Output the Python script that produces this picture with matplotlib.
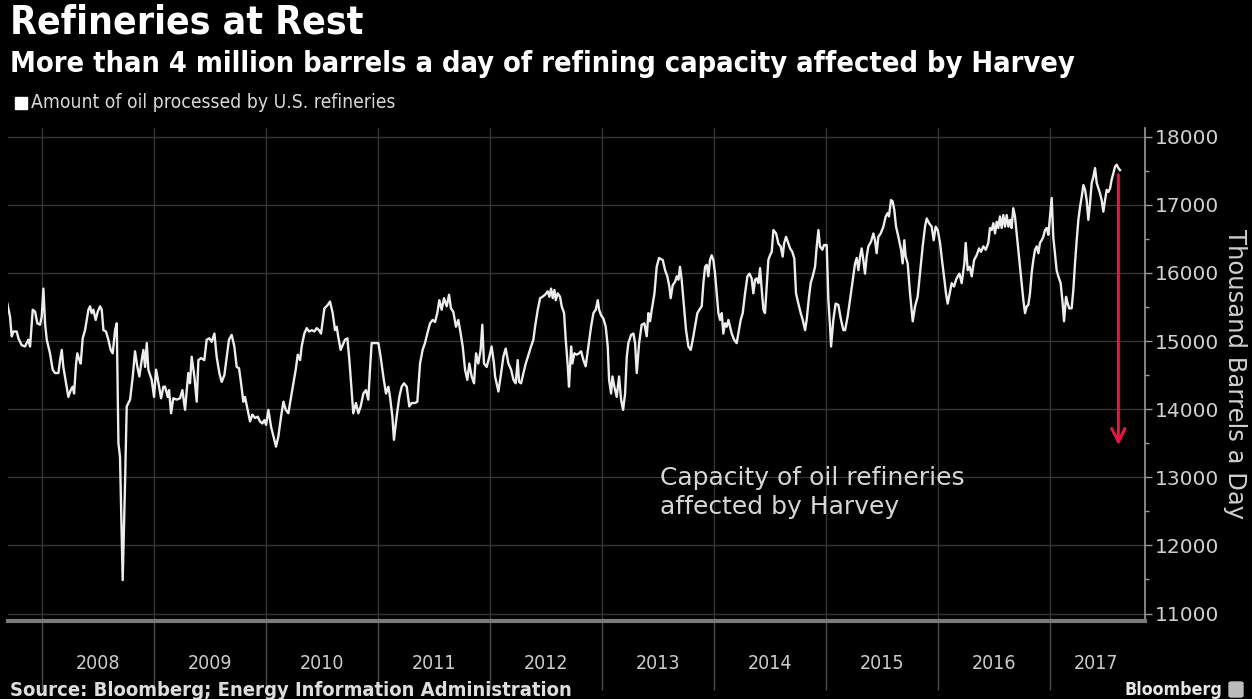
import numpy as np
import matplotlib
matplotlib.use('Agg')
import matplotlib.pyplot as plt
import matplotlib.patches as patches

# U.S. refinery crude input, thousand barrels a day (~weekly)
t_a = [2007.690, 2007.714, 2007.729, 2007.744, 2007.774, 2007.789, 2007.818, 2007.848, 2007.878, 2007.893,
       2007.917, 2007.938, 2007.958, 2007.982, 2007.997,
       2008.012, 2008.027, 2008.042, 2008.071, 2008.095, 2008.116, 2008.146, 2008.161, 2008.176, 2008.190,
       2008.220, 2008.235, 2008.256, 2008.274, 2008.286, 2008.304, 2008.315, 2008.333, 2008.345, 2008.363,
       2008.384, 2008.414, 2008.429, 2008.443, 2008.458, 2008.479, 2008.497, 2008.518, 2008.533, 2008.548,
       2008.571, 2008.592, 2008.613, 2008.631, 2008.652, 2008.667, 2008.682, 2008.696, 2008.720, 2008.741,
       2008.756, 2008.786, 2008.810, 2008.830, 2008.851, 2008.869, 2008.890, 2008.905, 2008.920, 2008.935,
       2008.949, 2008.979,
       2009.000, 2009.018, 2009.039, 2009.063, 2009.083]
v_a = [15550, 15360, 15070, 15140, 15140, 15040, 14940, 14920, 15020, 14920,
       15460, 15430, 15260, 15240, 15360,
       15770, 15260, 15020, 14820, 14580, 14530, 14530, 14720, 14870, 14620,
       14330, 14180, 14280, 14330, 14230, 14670, 14820, 14720, 14670, 15040,
       15160, 15460, 15510, 15410, 15460, 15310, 15430, 15510, 15460, 15160,
       15140, 15020, 14870, 14820, 15160, 15260, 13500, 13300, 11490, 12910,
       14040, 14140, 14480, 14850, 14620, 14480, 14720, 14870, 14620, 14970,
       14580, 14430,
       14180, 14580, 14380, 14160, 14330]

t_b = [2009.098, 2009.122, 2009.134, 2009.152, 2009.172, 2009.202, 2009.232, 2009.253, 2009.277, 2009.292,
       2009.306, 2009.321, 2009.336, 2009.360, 2009.381, 2009.396, 2009.420, 2009.449, 2009.470, 2009.494,
       2009.515, 2009.539, 2009.559, 2009.583, 2009.604, 2009.628, 2009.649, 2009.669, 2009.693, 2009.717,
       2009.738, 2009.759, 2009.777, 2009.797, 2009.812, 2009.836, 2009.857, 2009.878, 2009.902, 2009.926,
       2009.946, 2009.967, 2009.985,
       2010.000, 2010.021, 2010.045, 2010.066, 2010.089, 2010.110, 2010.134, 2010.155, 2010.176, 2010.199,
       2010.223, 2010.244, 2010.265, 2010.283, 2010.304, 2010.318, 2010.342, 2010.363, 2010.384, 2010.408,
       2010.432, 2010.452, 2010.473, 2010.491, 2010.521, 2010.551]
v_b = [14330, 14180, 14280, 13940, 14160, 14140, 14160, 14280, 13990, 14280,
       14530, 14380, 14770, 14480, 14110, 14720, 14750, 14720, 15020, 15040,
       14990, 15110, 14770, 14530, 14400, 14500, 14770, 15020, 15090, 14920,
       14620, 14600, 14380, 14110, 14180, 13990, 13820, 13920, 13870, 13890,
       13820, 13790, 13840,
       13770, 13990, 13740, 13600, 13450, 13600, 13890, 14110, 13990, 13940,
       14180, 14380, 14580, 14800, 14720, 14920, 15110, 15190, 15140, 15160,
       15140, 15190, 15160, 15110, 15480, 15530]

t_c = [2010.571, 2010.595, 2010.616, 2010.631, 2010.645, 2010.666, 2010.684, 2010.705, 2010.726, 2010.744,
       2010.764, 2010.779, 2010.803, 2010.824, 2010.845, 2010.869, 2010.892, 2010.913, 2010.928, 2010.943,
       2010.973,
       2011.003, 2011.023, 2011.047, 2011.071, 2011.092, 2011.107, 2011.128, 2011.142, 2011.166, 2011.190,
       2011.211, 2011.232, 2011.256, 2011.279, 2011.300, 2011.330, 2011.351, 2011.375, 2011.398, 2011.419,
       2011.440, 2011.464, 2011.488, 2011.509, 2011.529, 2011.547, 2011.568, 2011.589, 2011.613, 2011.634,
       2011.651, 2011.672, 2011.696, 2011.717, 2011.738, 2011.756, 2011.777, 2011.797, 2011.815, 2011.836,
       2011.857, 2011.875, 2011.895, 2011.916, 2011.931, 2011.946, 2011.970, 2011.994,
       2012.014, 2012.035]
v_c = [15580, 15410, 15160, 15210, 15060, 14870, 14940, 15020, 15040, 14720,
       14280, 13940, 14090, 13940, 14040, 14230, 14280, 14140, 14580, 14970,
       14970,
       14970, 14770, 14480, 14230, 14330, 14180, 13890, 13550, 13890, 14180,
       14330, 14380, 14330, 14040, 14090, 14090, 14110, 14670, 14870, 14970,
       15110, 15260, 15310, 15280, 15410, 15600, 15460, 15630, 15510, 15680,
       15480, 15430, 15210, 15310, 15110, 14920, 14580, 14430, 14670, 14480,
       14380, 14820, 14670, 14870, 15240, 14670, 14620, 14770,
       14920, 14670]

t_d = [2012.045, 2012.075, 2012.099, 2012.119, 2012.140, 2012.164, 2012.188, 2012.209, 2012.229, 2012.247,
       2012.259, 2012.277, 2012.298, 2012.319, 2012.343, 2012.366, 2012.387, 2012.402, 2012.426, 2012.447,
       2012.468, 2012.491, 2012.515, 2012.530, 2012.545, 2012.560, 2012.575, 2012.587, 2012.604, 2012.625,
       2012.640, 2012.661, 2012.676, 2012.694, 2012.705, 2012.724, 2012.735, 2012.753, 2012.774, 2012.795,
       2012.813, 2012.834, 2012.854, 2012.878, 2012.902, 2012.923, 2012.944, 2012.962, 2012.974, 2012.991,
       2013.012, 2013.033, 2013.051, 2013.063, 2013.081, 2013.093, 2013.110, 2013.131, 2013.152, 2013.170,
       2013.188, 2013.206, 2013.221, 2013.235, 2013.259, 2013.280, 2013.295, 2013.310, 2013.331, 2013.354,
       2013.378, 2013.399, 2013.414, 2013.429, 2013.444, 2013.468, 2013.488, 2013.509]
v_d = [14480, 14260, 14530, 14770, 14890, 14670, 14580, 14430, 14380, 14720,
       14400, 14380, 14530, 14670, 14800, 14920, 15020, 15210, 15460, 15630,
       15650, 15680, 15730, 15650, 15770, 15630, 15750, 15600, 15700, 15650,
       15510, 15410, 15020, 14630, 14330, 14920, 14670, 14820, 14800, 14820,
       14850, 14720, 14630, 14920, 15210, 15410, 15460, 15600, 15460, 15380,
       15330, 15210, 14920, 14430, 14230, 14480, 14330, 14180, 14480, 14140,
       13990, 14230, 14770, 14970, 15090, 15110, 14970, 14530, 14970, 15240,
       15260, 15070, 15410, 15290, 15460, 15700, 16090, 16220]

t_e = [2013.518, 2013.542, 2013.563, 2013.583, 2013.601, 2013.613, 2013.631, 2013.652, 2013.667, 2013.682,
       2013.696, 2013.711, 2013.732, 2013.750, 2013.771, 2013.792, 2013.810, 2013.830, 2013.851, 2013.869,
       2013.890, 2013.905, 2013.920, 2013.935, 2013.949, 2013.964, 2013.979, 2013.994,
       2014.009, 2014.024, 2014.039, 2014.054, 2014.069, 2014.083, 2014.098, 2014.113, 2014.128, 2014.143,
       2014.158, 2014.179, 2014.202, 2014.217, 2014.238, 2014.256, 2014.277, 2014.298, 2014.316, 2014.336,
       2014.351, 2014.366, 2014.381, 2014.396, 2014.411, 2014.426, 2014.441, 2014.455, 2014.470, 2014.485,
       2014.500, 2014.515, 2014.530, 2014.554, 2014.575, 2014.595, 2014.613, 2014.625, 2014.643, 2014.664,
       2014.679, 2014.699, 2014.717, 2014.732, 2014.753, 2014.774, 2014.792, 2014.813, 2014.827, 2014.848,
       2014.863, 2014.881, 2014.902, 2014.917, 2014.932, 2014.946, 2014.967, 2014.982]
v_e = [16210, 16190, 16040, 15950, 15800, 15630, 15820, 15870, 15950, 15900,
       16090, 15900, 15510, 15160, 14920, 14870, 15020, 15210, 15410, 15460,
       15510, 15850, 16090, 16120, 15950, 16190, 16260, 16190,
       15990, 15700, 15410, 15310, 15410, 15110, 15260, 15210, 15310, 15210,
       15110, 15020, 14970, 15110, 15310, 15410, 15700, 15950, 15990, 15920,
       15700, 15900, 15920, 15850, 16070, 15750, 15460, 15410, 15800, 16190,
       16260, 16310, 16630, 16580, 16430, 16390, 16240, 16430, 16530, 16430,
       16360, 16310, 16210, 15700, 15550, 15410, 15310, 15160, 15310, 15650,
       15850, 15950, 16090, 16390, 16630, 16390, 16340, 16410]

t_f = [2014.991,
       2015.006, 2015.021, 2015.036, 2015.045, 2015.065, 2015.086, 2015.110, 2015.134, 2015.155, 2015.170,
       2015.193, 2015.214, 2015.235, 2015.259, 2015.274, 2015.289, 2015.304, 2015.318, 2015.333, 2015.348,
       2015.363, 2015.378, 2015.402, 2015.423, 2015.437, 2015.452, 2015.467, 2015.488, 2015.512, 2015.533,
       2015.551, 2015.562, 2015.580, 2015.595, 2015.610, 2015.625, 2015.646, 2015.670, 2015.684, 2015.699,
       2015.711, 2015.729, 2015.750, 2015.774, 2015.795, 2015.818, 2015.839, 2015.863, 2015.884, 2015.899,
       2015.920, 2015.943, 2015.961, 2015.979, 2015.997,
       2016.018, 2016.039, 2016.057, 2016.071, 2016.086, 2016.104, 2016.122, 2016.143, 2016.161, 2016.176,
       2016.191, 2016.211, 2016.235, 2016.247, 2016.265, 2016.283, 2016.301, 2016.322, 2016.345, 2016.366,
       2016.384, 2016.405, 2016.426, 2016.449]
v_f = [16410,
       16410, 15600, 15210, 14920, 15310, 15550, 15530, 15310, 15160, 15160,
       15360, 15600, 15850, 16140, 16220, 16040, 16240, 16360, 16190, 15990,
       16240, 16390, 16460, 16580, 16480, 16290, 16530, 16580, 16680, 16830,
       16880, 16830, 17070, 17050, 16920, 16680, 16530, 16340, 16140, 16480,
       16240, 16140, 15700, 15290, 15510, 15650, 15990, 16390, 16680, 16800,
       16730, 16680, 16480, 16680, 16630,
       16440, 16140, 15900, 15700, 15550, 15700, 15850, 15800, 15900, 15950,
       15990, 15850, 16140, 16440, 16040, 16090, 15950, 16190, 16260, 16360,
       16310, 16390, 16340, 16440]

t_g = [2016.464, 2016.479, 2016.494, 2016.509, 2016.524, 2016.538, 2016.553, 2016.568, 2016.583, 2016.598,
       2016.613, 2016.628, 2016.643, 2016.657, 2016.672, 2016.687, 2016.702, 2016.717, 2016.732, 2016.747,
       2016.762, 2016.777, 2016.792, 2016.806, 2016.821, 2016.836, 2016.851, 2016.866, 2016.881, 2016.896,
       2016.910, 2016.925, 2016.940, 2016.955, 2016.970, 2016.985,
       2017.000, 2017.015, 2017.029, 2017.044, 2017.059, 2017.074, 2017.095, 2017.113, 2017.125, 2017.143,
       2017.158, 2017.172, 2017.193, 2017.208, 2017.223, 2017.238, 2017.253, 2017.268, 2017.283, 2017.298,
       2017.313, 2017.327, 2017.342, 2017.357, 2017.372, 2017.387, 2017.402, 2017.417, 2017.432, 2017.446,
       2017.461, 2017.476, 2017.491, 2017.506, 2017.521, 2017.536, 2017.550, 2017.565, 2017.580, 2017.595,
       2017.610, 2017.625]
v_g = [16660, 16630, 16730, 16580, 16750, 16660, 16830, 16660, 16850, 16680,
       16850, 16680, 16780, 16660, 16950, 16830, 16580, 16340, 16090, 15850,
       15600, 15410, 15510, 15530, 15700, 16000, 16190, 16340, 16390, 16290,
       16440, 16480, 16530, 16630, 16660, 16560,
       16830, 17100, 16530, 16290, 16040, 15950, 15850, 15550, 15290, 15650,
       15550, 15480, 15480, 15750, 16140, 16480, 16780, 16970, 17120, 17290,
       17220, 17070, 16780, 17020, 17320, 17410, 17540, 17320, 17240, 17170,
       17070, 16900, 17070, 17220, 17190, 17240, 17370, 17460, 17560, 17590,
       17540, 17510]

years = [2008, 2009, 2010, 2011, 2012, 2013, 2014, 2015, 2016, 2017]
year_labels = [str(y) for y in years]
# label spots: mid-year, last one sits over the part-year of data
label_pos = [2008.5, 2009.5, 2010.5, 2011.5, 2012.5, 2013.5, 2014.5, 2015.5, 2016.5, 2017.41]
y_ticks = [11000, 12000, 13000, 14000, 15000, 16000, 17000, 18000]

# Harvey outage arrow (about 4 million b/d off the latest reading)
harvey_x = 2017.61
harvey_top = 17480
harvey_bottom = 13430
note_x, note_y = 2013.52, 13170

dates = np.concatenate([t_a, t_b, t_c, t_d, t_e, t_f, t_g])
kbd = np.concatenate([v_a, v_b, v_c, v_d, v_e, v_f, v_g])

# condensed face for the headline / footer text
cond = dict(family='DejaVu Sans', stretch='condensed')
W, H = 1252, 699

fig = plt.figure(figsize=(W / 100, H / 100), dpi=100, facecolor='black')
ax = fig.add_axes([8 / W, 1 - 621 / H, (1145 - 8) / W, (621 - 128) / H])
ax.set_facecolor('black')

ax.plot(dates, kbd, color='#ededed', lw=1.7, zorder=3)

ax.annotate('', xy=(harvey_x, harvey_bottom), xytext=(harvey_x, harvey_top),
            arrowprops=dict(arrowstyle='->', color='#e3173f', lw=2.2, mutation_scale=24),
            zorder=4)
ax.text(note_x, note_y, 'Capacity of oil refineries\naffected by Harvey',
        color='#d6d6d6', fontsize=18, va='top', ha='left', linespacing=1.3)

ax.set_xlim(2007.696, 2017.848)
ax.set_ylim(10890, 18128)

# y axis on the right
ax.yaxis.tick_right()
ax.set_yticks(y_ticks)
ax.set_yticks(np.arange(11500, 18000, 1000), minor=True)
ax.tick_params(axis='y', which='major', length=5, width=1, color='#999999',
               labelcolor='#d0d0d0', labelsize=14.5, pad=2)
ax.tick_params(axis='y', which='minor', length=3, width=1, color='#999999')
ax.yaxis.set_label_position('right')
ax.set_ylabel('Thousand Barrels a Day', rotation=270, color='#d0d0d0',
              fontsize=17.5, labelpad=20)

# year separators as long ticks, labels centred in each year
ax.set_xticks(years)
ax.set_xticklabels([''] * len(years))
ax.set_xticks(label_pos, minor=True)
ax.set_xticklabels(year_labels, minor=True)
ax.tick_params(axis='x', which='major', length=50, width=1, color='#4a4a4a')
ax.tick_params(axis='x', which='minor', length=0, pad=24, labelsize=14,
               labelcolor='#cccccc')
for lab in ax.get_xticklabels(minor=True):
    lab.set_fontstretch('condensed')

ax.grid(True, which='major', color='#343434', lw=1)
ax.set_axisbelow(True)

for side in ['left', 'top']:
    ax.spines[side].set_visible(False)
ax.spines['right'].set_color('#9a9a9a')
ax.spines['right'].set_linewidth(1.2)
ax.spines['bottom'].set_color('#7a7a7a')
ax.spines['bottom'].set_linewidth(3)

# header
fig.text(10 / W, 1 - 22 / H, 'Refineries at Rest', color='white', fontsize=28,
         weight='bold', va='center', ha='left', **cond)
fig.text(10 / W, 1 - 64 / H,
         'More than 4 million barrels a day of refining capacity affected by Harvey',
         color='white', fontsize=20.8, weight='bold', va='center', ha='left', **cond)
fig.patches.append(patches.Rectangle((15 / W, 1 - 109 / H), 12 / W, 12 / H,
                                     transform=fig.transFigure, color='white'))
fig.text(31 / W, 1 - 103 / H, 'Amount of oil processed by U.S. refineries',
         color='#d8d8d8', fontsize=13.9, va='center', ha='left', **cond)

# footer
fig.text(10 / W, 1 - 690 / H, 'Source: Bloomberg; Energy Information Administration',
         color='#dddddd', fontsize=14.5, weight='bold', va='center', ha='left', **cond)
fig.text(1222 / W, 1 - 690 / H, 'Bloomberg', color='#e6e6e6', fontsize=12.8,
         weight='bold', va='center', ha='right', **cond)
fig.patches.append(patches.FancyBboxPatch((1229 / W, 1 - 697 / H), 14 / W, 15 / H,
                                          boxstyle='round,pad=0,rounding_size=0.002',
                                          transform=fig.transFigure, color='#bbbbbb'))

fig.savefig('out.png', dpi=100, facecolor='black')
